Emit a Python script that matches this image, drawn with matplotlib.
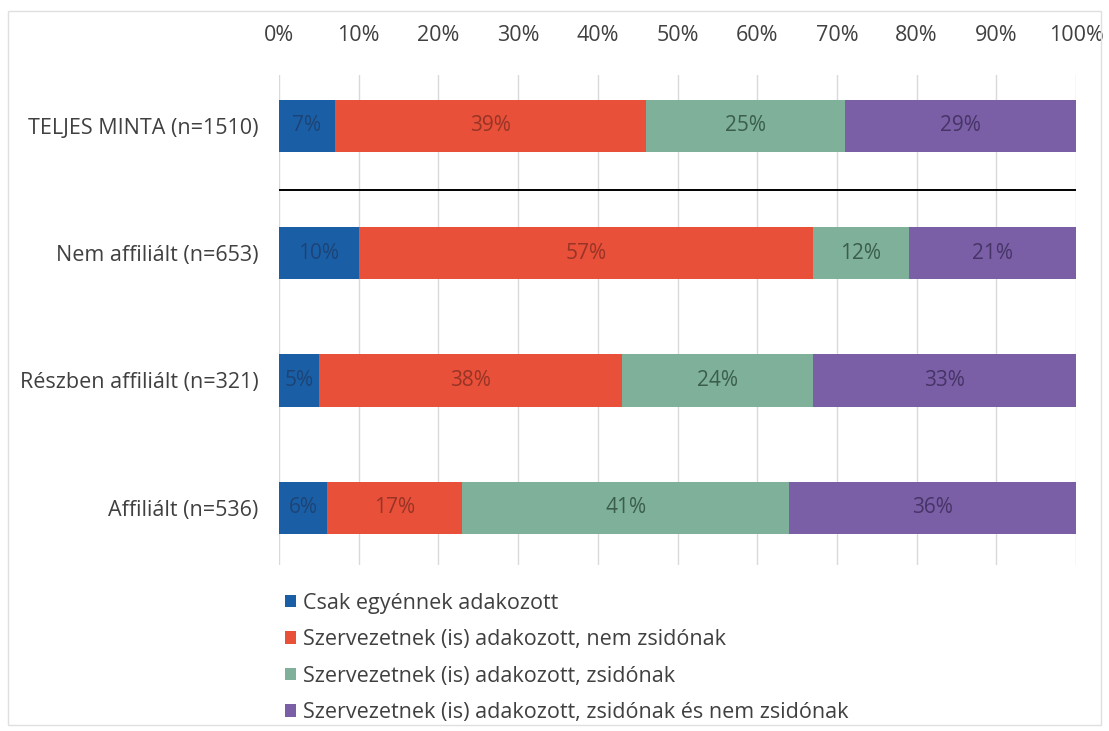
import matplotlib
matplotlib.use('Agg')
import matplotlib.pyplot as plt
from matplotlib.patches import Rectangle
import numpy as np

plt.rcParams['font.family'] = ['Open Sans', 'DejaVu Sans']

categories = ['TELJES MINTA (n=1510)', 'Nem affiliált (n=653)',
              'Részben affiliált (n=321)', 'Affiliált (n=536)']
series = ['Csak egyénnek adakozott',
          'Szervezetnek (is) adakozott, nem zsidónak',
          'Szervezetnek (is) adakozott, zsidónak',
          'Szervezetnek (is) adakozott, zsidónak és nem zsidónak']
values = [
    [7, 10, 5, 6],
    [39, 57, 38, 17],
    [25, 12, 24, 41],
    [29, 21, 33, 36],
]
xticks = [0, 10, 20, 30, 40, 50, 60, 70, 80, 90, 100]

colors = ['#1a5fa6', '#e8503a', '#7fb09a', '#7a5fa6']
text_colors = ['#1d3f6e', '#8a2f22', '#2f4f40', '#3e2d5c']

fig = plt.figure(figsize=(11.09, 7.31), dpi=100)
ax = fig.add_axes([0.2516, 0.2271, 0.7187, 0.6703])

y = np.arange(len(categories))
left = np.zeros(len(categories))
for i, name in enumerate(series):
    vals = np.array(values[i], dtype=float)
    bars = ax.barh(y, vals, left=left, height=0.41, color=colors[i],
                   label=name, zorder=2)
    for j, b in enumerate(bars):
        ax.text(left[j] + vals[j] / 2, y[j], f'{int(vals[j])}%',
                ha='center', va='center', fontsize=15,
                color=text_colors[i], alpha=0.85, zorder=3)
    left += vals

ax.axhline(0.5, color='black', lw=1.4, zorder=3)

ax.set_xlim(0, 100)
ax.set_ylim(3.45, -0.4)
ax.set_xticks(xticks)
ax.set_xticklabels([f'{t}%' for t in xticks], fontsize=15.5, color='#404040')
ax.xaxis.tick_top()
ax.tick_params(axis='x', length=0, pad=21)
ax.set_yticks(y)
ax.set_yticklabels(categories, fontsize=15.5, color='#404040')
ax.tick_params(axis='y', length=0, pad=15)
ax.grid(axis='x', color='#d9d9d9', lw=1, zorder=0)
for s in ax.spines.values():
    s.set_visible(False)

leg = fig.legend(loc='upper left', bbox_to_anchor=(0.249, 0.201), frameon=False,
                 fontsize=15.5, handlelength=0.5, handleheight=0.5,
                 handletextpad=0.35, labelspacing=0.72, borderaxespad=0)
for t in leg.get_texts():
    t.set_color('#404040')

fig.patches.append(Rectangle((0.007, 0.008), 0.986, 0.977, transform=fig.transFigure,
                             fill=False, edgecolor='#e0e0e0', lw=1))

fig.savefig('out.png', dpi=100)
